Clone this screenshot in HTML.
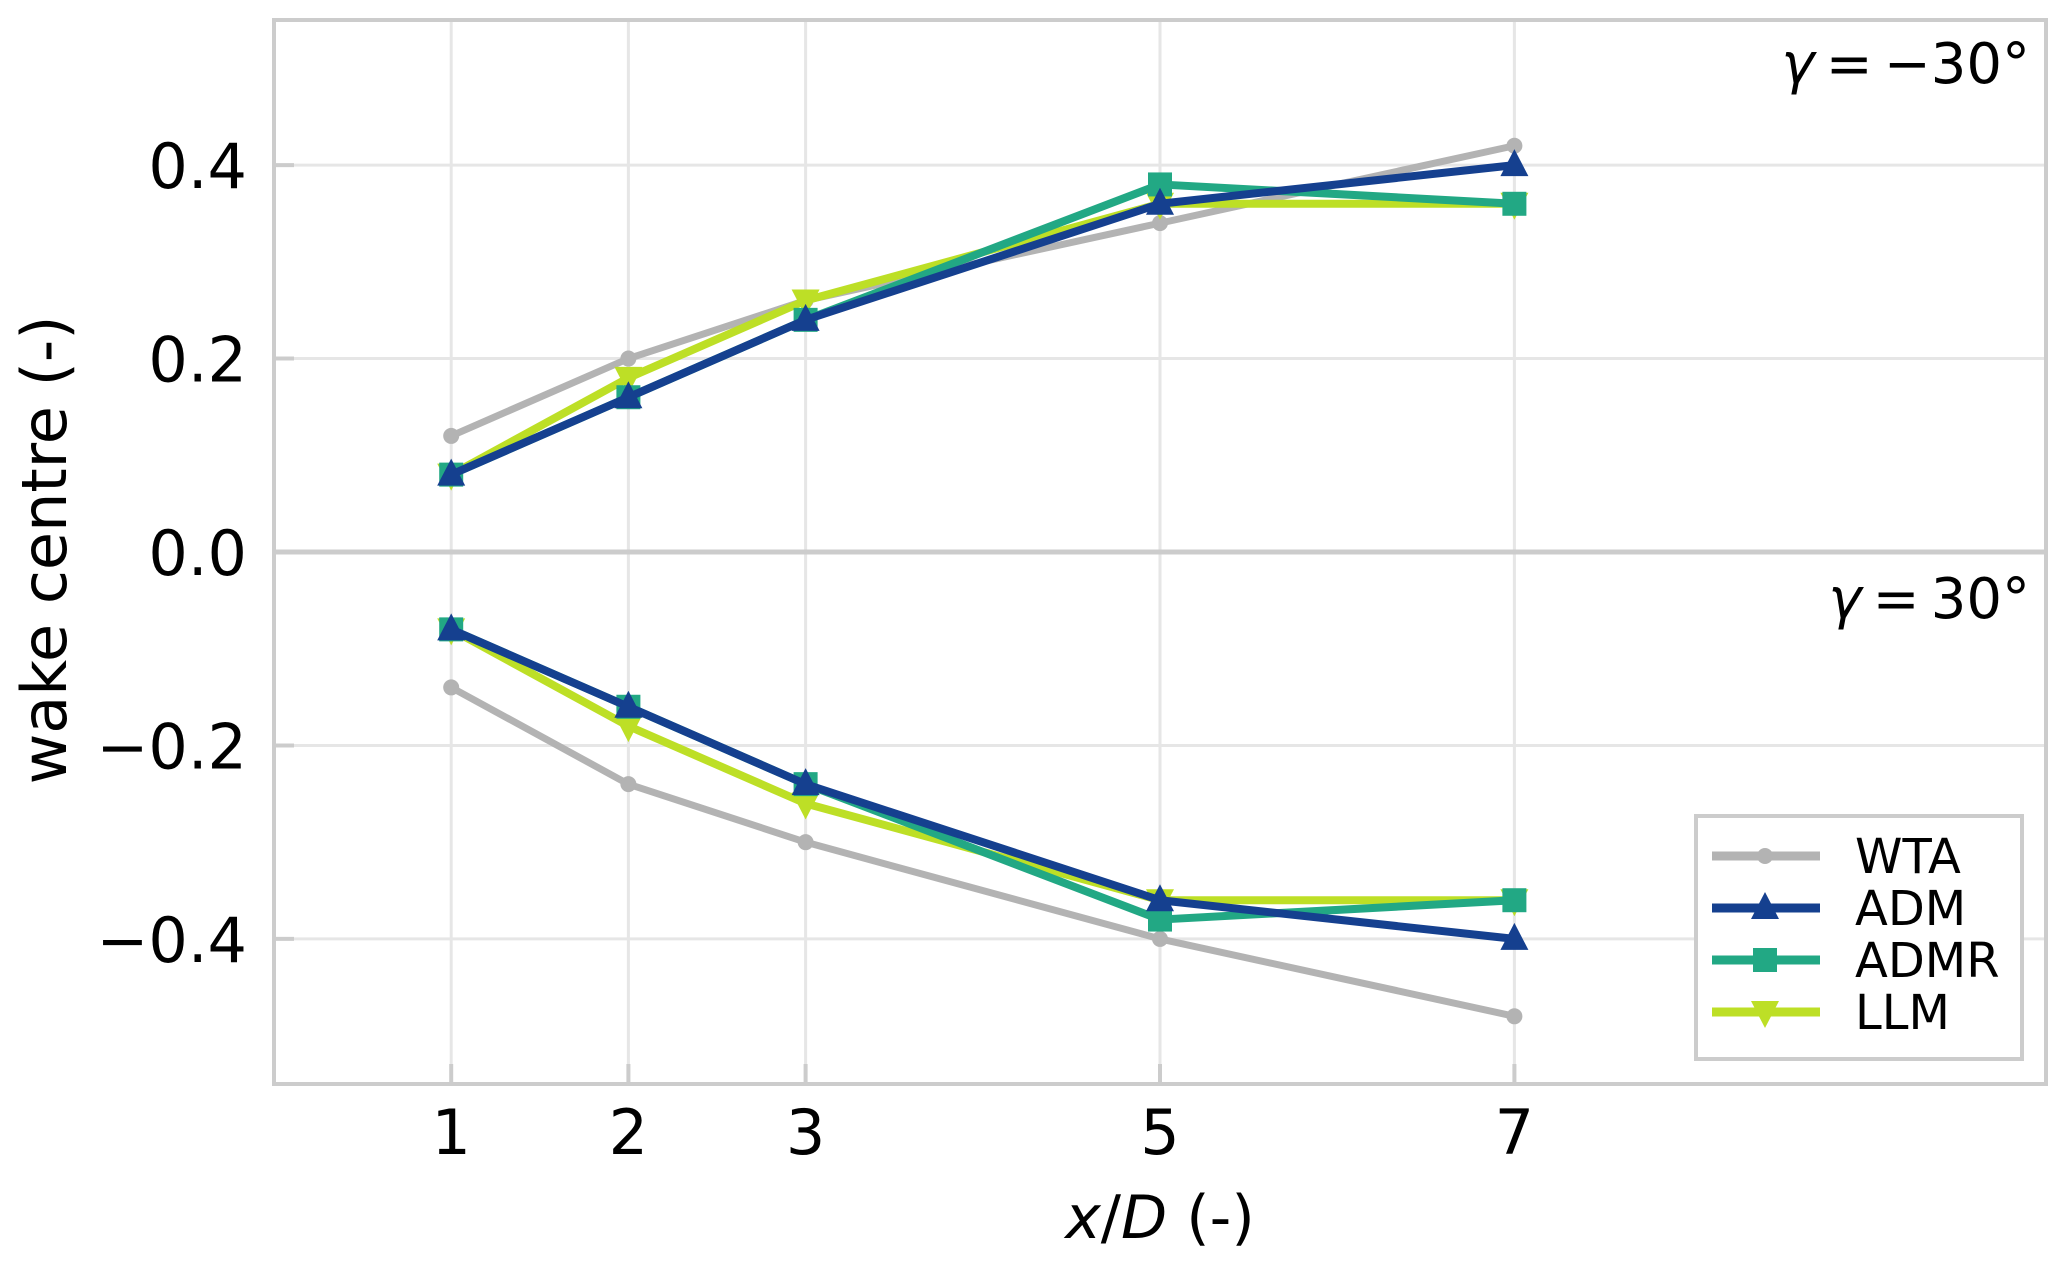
<!DOCTYPE html>
<html><head><meta charset="utf-8"><style>
html,body{margin:0;padding:0;background:#fff;}
svg{display:block;font-family:"DejaVu Sans","Liberation Sans",sans-serif;}
</style></head><body>
<svg id="chart" width="2067" height="1264" viewBox="0 0 2067 1264" xmlns="http://www.w3.org/2000/svg">
<g id="grid"></g>
<g id="series"></g>
<g id="axes"></g>
<text x="2030" y="83" font-size="56" text-anchor="end"><tspan font-style="italic">γ</tspan>&#8201;=&#8201;−30°</text>
<text x="2030" y="618" font-size="56" text-anchor="end"><tspan font-style="italic">γ</tspan>&#8201;=&#8201;30°</text>
<text x="1160" y="1238" font-size="60" text-anchor="middle"><tspan font-style="italic">x</tspan>/<tspan font-style="italic">D</tspan> (-)</text>
<text transform="translate(66,550) rotate(-90)" font-size="62" text-anchor="middle">wake centre (-)</text>
<g id="legend"></g>
</svg>
<script>
const xCats = [1, 2, 3, 5, 7];
const xTicks = [1, 2, 3, 5, 7];
const yTicks = [-0.4, -0.2, 0.0, 0.2, 0.4];
const yTickLabels = ["−0.4", "−0.2", "0.0", "0.2", "0.4"];
const wtaTop = [0.12, 0.20, 0.26, 0.34, 0.42];
const wtaBot = [-0.14, -0.24, -0.30, -0.40, -0.48];
const admTop = [0.08, 0.16, 0.24, 0.36, 0.40];
const admBot = [-0.08, -0.16, -0.24, -0.36, -0.40];
const admrTop = [0.08, 0.16, 0.24, 0.38, 0.36];
const admrBot = [-0.08, -0.16, -0.24, -0.38, -0.36];
const llmTop = [0.08, 0.18, 0.26, 0.36, 0.36];
const llmBot = [-0.08, -0.18, -0.26, -0.36, -0.36];
const seriesNames = ["WTA", "ADM", "ADMR", "LLM"];

const NS = "http://www.w3.org/2000/svg";
const L = 274, R = 2046, T = 20, B = 1084;
const xMin = 0, xMax = 10, yMin = -0.55, yMax = 0.55;
function sx(v){ return L + (v - xMin) / (xMax - xMin) * (R - L); }
function sy(v){ return B - (v - yMin) / (yMax - yMin) * (B - T); }
function mk(tag, attrs, parent){ const e = document.createElementNS(NS, tag); for (const k in attrs) e.setAttribute(k, attrs[k]); parent.appendChild(e); return e; }

const grid = document.getElementById('grid');
xTicks.forEach(t => {
  const g = mk('line', {x1: sx(t), x2: sx(t), y1: T, y2: B, stroke: '#e6e6e6', 'stroke-width': 3}, grid);
  
  
});
yTicks.forEach(t => {
  const g = mk('line', {x1: L, x2: R, y1: sy(t), y2: sy(t), stroke: t === 0 ? '#cccccc' : '#e6e6e6', 'stroke-width': t === 0 ? 5 : 3}, grid);
  
  
});

const axes = document.getElementById('axes');
const frame = mk('rect', {x: L, y: T, width: R - L, height: B - T, fill: 'none', stroke: '#cccccc', 'stroke-width': 4}, axes);


xTicks.forEach(t => {
  const tx = mk('text', {x: sx(t), y: 1154, 'font-size': 62, 'text-anchor': 'middle'}, axes);
  tx.textContent = String(t);
  
  
  const tk = mk('line', {x1: sx(t), x2: sx(t), y1: B, y2: B - 20, stroke: '#cccccc', 'stroke-width': 4}, axes);
  
  
});
yTicks.forEach((t, i) => {
  const tx = mk('text', {x: 247, y: sy(t) + 23, 'font-size': 62, 'text-anchor': 'end'}, axes);
  tx.textContent = yTickLabels[i];
  
  
  const tk = mk('line', {x1: L, x2: L + 20, y1: sy(t), y2: sy(t), stroke: '#cccccc', 'stroke-width': 4}, axes);
  
  
});

function marker(type, cx, cy, color, parent){
  let e;
  if (type === 'circle') e = mk('circle', {cx: cx, cy: cy, r: 8, fill: color}, parent);
  else if (type === 'square') e = mk('rect', {x: cx - 12, y: cy - 12, width: 24, height: 24, fill: color}, parent);
  else if (type === 'tri') e = mk('polygon', {points: `${cx},${cy-16} ${cx+14},${cy+11} ${cx-14},${cy+11}`, fill: color}, parent);
  else e = mk('polygon', {points: `${cx},${cy+16} ${cx+14},${cy-11} ${cx-14},${cy-11}`, fill: color}, parent);
  return e;
}
const seriesG = document.getElementById('series');
const defs = [
  {name: 'wta', color: '#b3b3b3', w: 7, m: 'circle', top: wtaTop, bot: wtaBot},
  {name: 'llm', color: '#bddf26', w: 8, m: 'dtri', top: llmTop, bot: llmBot},
  {name: 'admr', color: '#22a884', w: 8, m: 'square', top: admrTop, bot: admrBot},
  {name: 'adm', color: '#15408f', w: 8, m: 'tri', top: admTop, bot: admBot}
];
defs.forEach(d => {
  [['top', d.top], ['bottom', d.bot]].forEach(([part, vals]) => {
    const pts = xCats.map((x, i) => sx(x) + ',' + sy(vals[i])).join(' ');
    const pl = mk('polyline', {points: pts, fill: 'none', stroke: d.color, 'stroke-width': d.w, 'stroke-linejoin': 'round'}, seriesG);
    
    
    xCats.forEach((x, i) => {
      const m = marker(d.m, sx(x), sy(vals[i]), d.color, seriesG);
      
      
    });
  });
});

const leg = document.getElementById('legend');
const lb = mk('rect', {x: 1696, y: 816, width: 326, height: 243, fill: '#fff', stroke: '#cccccc', 'stroke-width': 4}, leg);


const legOrder = [defs[0], defs[3], defs[2], defs[1]];
legOrder.forEach((d, i) => {
  const cy = 856 + i * 52;
  const ln = mk('line', {x1: 1712, x2: 1820, y1: cy, y2: cy, stroke: d.color, 'stroke-width': 9}, leg);
  
  
  const m = marker(d.m, 1765, cy, d.color, leg);
  
  
  const t = mk('text', {x: 1855, y: cy + 17, 'font-size': 48}, leg);
  t.textContent = seriesNames[i];
  
  
});
</script>
</body></html>
